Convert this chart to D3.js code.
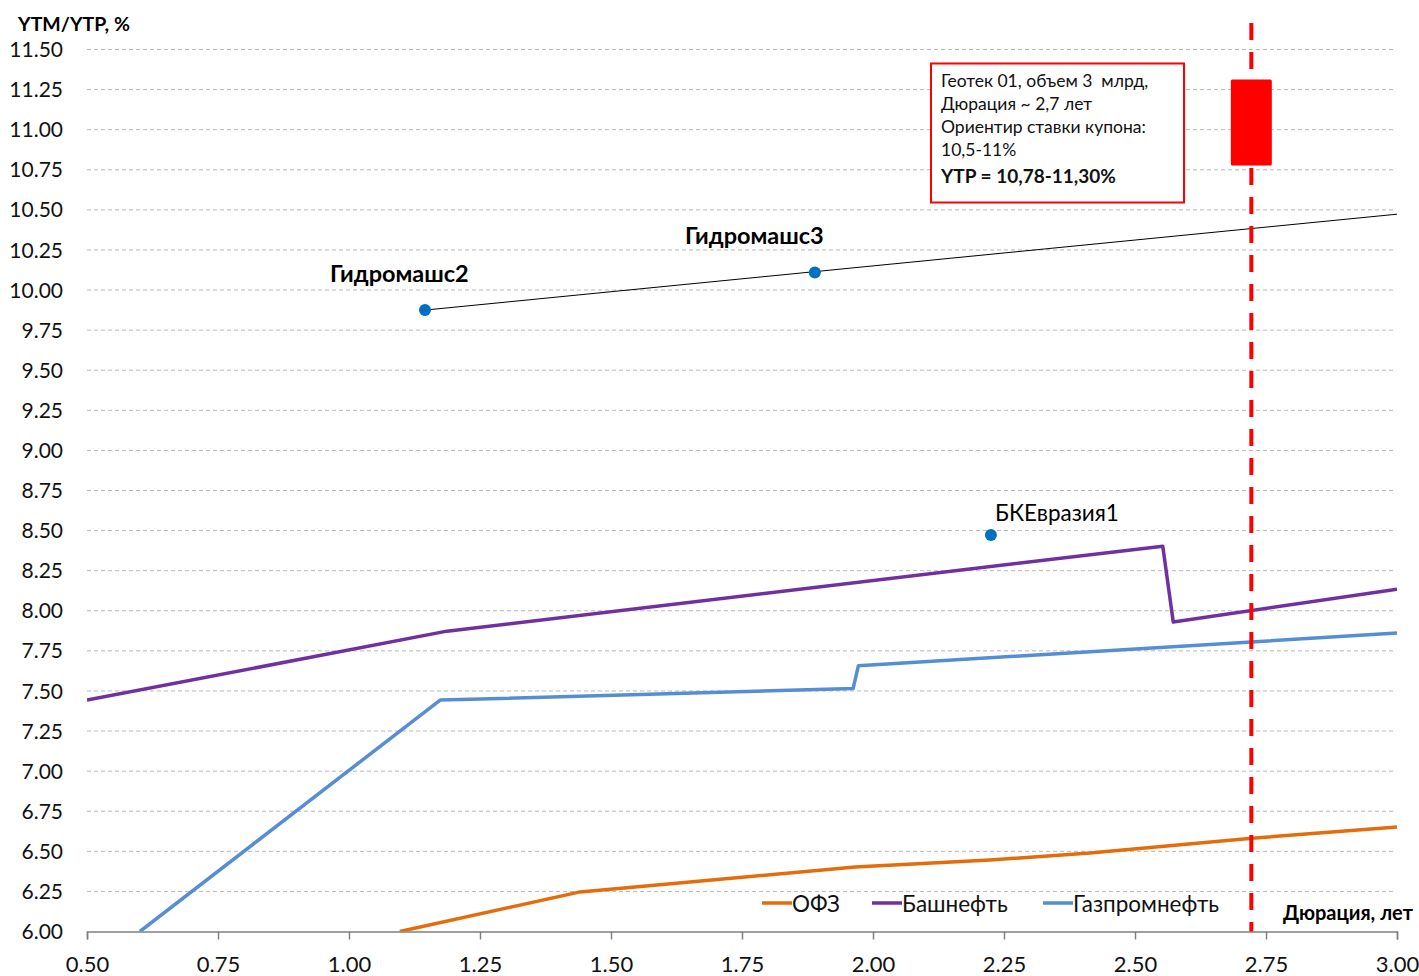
<!DOCTYPE html>
<html><head><meta charset="utf-8">
<script src="https://cdn.jsdelivr.net/npm/d3@7"></script>
<style>
body{margin:0;background:#fff;}
text{font-family:Lato,"Open Sans",sans-serif;white-space:pre;}
</style></head><body>
<svg id="c" width="1419" height="976"></svg>
<script>
const xTicks = [0.50,0.75,1.00,1.25,1.50,1.75,2.00,2.25,2.50,2.75,3.00];
const yTicks = [6.00,6.25,6.50,6.75,7.00,7.25,7.50,7.75,8.00,8.25,8.50,8.75,9.00,9.25,9.50,9.75,10.00,10.25,10.50,10.75,11.00,11.25,11.50];
const ofz = [[1.097,6.0],[1.441,6.247],[1.966,6.402],[2.223,6.446],[2.414,6.489],[2.723,6.582],[3.0,6.651]];
const bashneft = [[0.5,7.443],[1.187,7.873],[2.553,8.403],[2.573,7.93],[3.0,8.135]];
const gazpromneft = [[0.601,6.0],[1.174,7.443],[1.962,7.515],[1.972,7.657],[3.0,7.861]];
const bonds = [{name:"Гидромашс2",x:1.145,y:9.875},{name:"Гидромашс3",x:1.889,y:10.11},{name:"БКЕвразия1",x:2.225,y:8.472}];
const trend = [[1.145,9.875],[3.0,10.473]];
const geotek = {x:2.722,low:10.78,high:11.30};
const seriesNames = ["ОФЗ","Башнефть","Газпромнефть"];
const seriesColors = ["#E46C0A","#7030A0","#558ED5"];
const noteLines = ["Геотек 01, объем 3  млрд,","Дюрация ~ 2,7 лет","Ориентир ставки купона:","10,5-11%"];
const noteBold = "YTP = 10,78-11,30%";

const svg = d3.select("#c");
const x = d3.scaleLinear().domain([0.5,3.0]).range([87,1397]);
const y = d3.scaleLinear().domain([6.0,11.5]).range([931.5,49.5]);

// grid
svg.append("g").selectAll("line").data(yTicks.slice(1)).join("line")
  .attr("x1",x(0.5)).attr("x2",1393).attr("y1",d=>y(d)).attr("y2",d=>y(d))
  .attr("stroke","#b8b8b8").attr("stroke-width",1).attr("stroke-dasharray","4,3");

// y labels
svg.append("g").selectAll("text").data(yTicks).join("text")
  .attr("x",63).attr("y",d=>y(d)).attr("dy","0.36em").attr("text-anchor","end")
  .attr("font-size",21).attr("fill","#111").text(d=>d.toFixed(2));

// x axis
const xa = svg.append("g").attr("transform",`translate(0,${y(6)})`)
  .call(d3.axisBottom(x).tickValues(xTicks).tickSize(8).tickFormat(d=>d.toFixed(2)).tickPadding(17));
xa.select(".domain").attr("stroke","#808080").attr("stroke-width",1.5);
xa.selectAll(".tick line").attr("stroke","#808080").attr("stroke-width",1.5);
xa.selectAll(".tick text").attr("font-size",22).attr("fill","#111").attr("font-family","Lato,'Open Sans',sans-serif");

// clip
svg.append("clipPath").attr("id","pc").append("rect").attr("x",x(0.5)).attr("y",0).attr("width",x(3)-x(0.5)).attr("height",y(6));

const line = d3.line().x(d=>x(d[0])).y(d=>y(d[1]));
const g = svg.append("g").attr("clip-path","url(#pc)");
[ofz,bashneft,gazpromneft].forEach((s,i)=>{
  g.append("path").attr("d",line(s)).attr("fill","none").attr("stroke",seriesColors[i])
   .attr("stroke-width",3.5).attr("stroke-linejoin","round");
});

// trend
svg.append("path").attr("d",line(trend)).attr("stroke","#000").attr("stroke-width",1).attr("fill","none");

// points
svg.append("g").selectAll("circle").data(bonds).join("circle")
  .attr("cx",d=>x(d.x)).attr("cy",d=>y(d.y)).attr("r",6).attr("fill","#0070C0");
svg.append("text").attr("x",330).attr("y",282).attr("font-size",23.5).attr("font-weight","bold").text(bonds[0].name);
svg.append("text").attr("x",685).attr("y",244).attr("font-size",23.5).attr("font-weight","bold").text(bonds[1].name);
svg.append("text").attr("x",995).attr("y",521).attr("font-size",22.5).text(bonds[2].name);

// red dashed line
svg.append("line").attr("x1",x(geotek.x)).attr("x2",x(geotek.x)).attr("y1",23).attr("y2",y(6))
  .attr("stroke","#FF0000").attr("stroke-width",4).attr("stroke-dasharray","17,12");
// red bar
svg.append("rect").attr("x",x(geotek.x)-20.5).attr("width",41).attr("y",y(geotek.high)-2).attr("height",y(geotek.low)-y(geotek.high)+2.5)
  .attr("fill","#FF0000").attr("rx",1.5);

// note box
svg.append("rect").attr("x",931).attr("y",63.5).attr("width",253).attr("height",139)
  .attr("fill","#fff").attr("stroke","#FF0000").attr("stroke-width",2);
const nb = [87,110,133,156];
noteLines.forEach((t,i)=>svg.append("text").attr("x",941).attr("y",nb[i]).attr("font-size",17.5).attr("fill","#111").text(t));
svg.append("text").attr("x",941).attr("y",183).attr("font-size",19).attr("font-weight","bold").attr("fill","#111").text(noteBold);

// legend
const lx = [762,872,1043];
seriesNames.forEach((n,i)=>{
  svg.append("line").attr("x1",lx[i]).attr("x2",lx[i]+30).attr("y1",903).attr("y2",903).attr("stroke",seriesColors[i]).attr("stroke-width",3.5);
  svg.append("text").attr("x",lx[i]+30).attr("y",912).attr("font-size",22.5).attr("fill","#111").text(n);
});

// axis titles
svg.append("text").attr("x",18).attr("y",31).attr("font-size",19.5).attr("font-weight","bold").text("YTM/YTP, %");
svg.append("text").attr("x",1413).attr("y",920).attr("text-anchor","end").attr("font-size",20).attr("font-weight","bold").text("Дюрация, лет");
</script></body></html>
